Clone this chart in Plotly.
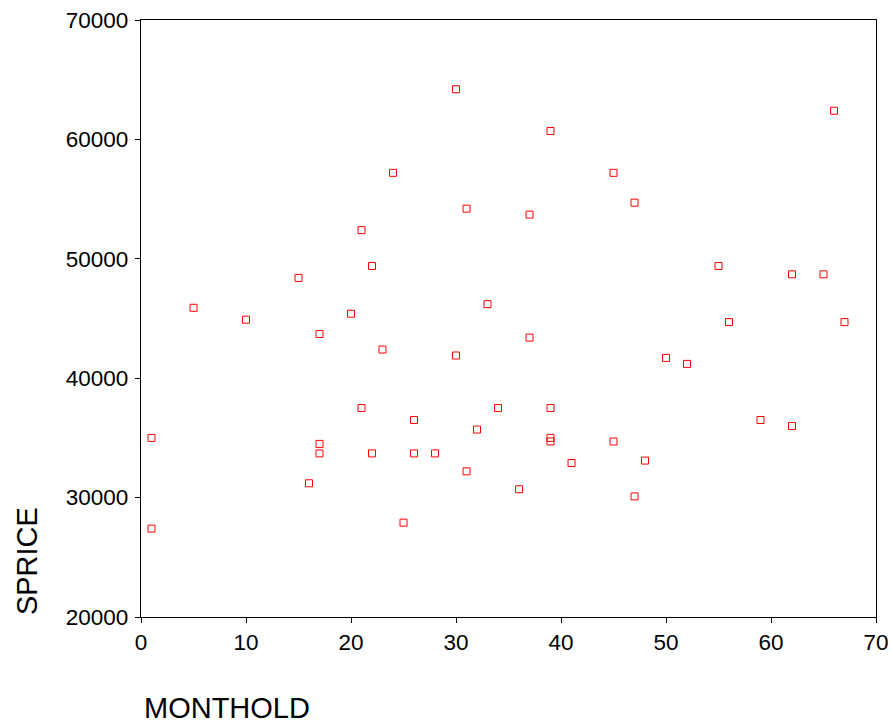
import plotly.graph_objects as go

# Months held vs. selling price
monthold = [30, 66, 39, 24, 45, 31, 37, 47, 21, 22, 15, 55, 62, 65, 5, 10, 20, 33,
            17, 23, 30, 37, 56, 67, 50, 52, 62, 59, 1, 1, 21, 26, 34, 39, 32, 17,
            17, 22, 26, 28, 31, 16, 25, 36, 39, 39, 45, 41, 48, 47]
sprice = [64200, 62400, 60700, 57200, 57200, 54200, 53700, 54700, 52400, 49400,
          48400, 49400, 48700, 48700, 45900, 44900, 45400, 46200, 43700, 42400,
          41900, 43400, 44700, 44700, 41700, 41200, 36000, 36500, 35000, 27400,
          37500, 36500, 37500, 37500, 35700, 34500, 33700, 33700, 33700, 33700,
          32200, 31200, 27900, 30700, 35000, 34700, 34700, 32900, 33100, 30100]

x_ticks = [0, 10, 20, 30, 40, 50, 60, 70]
y_ticks = [20000, 30000, 40000, 50000, 60000, 70000]

font_family = "Liberation Sans, Arial, sans-serif"

fig = go.Figure()
fig.add_trace(go.Scatter(
    x=monthold, y=sprice, mode="markers",
    marker=dict(symbol="square-open", size=7, color="#ff0000",
                line=dict(width=1, color="#ff0000")),
    showlegend=False,
))

axis_common = dict(
    showgrid=False, zeroline=False, showline=True, linecolor="black",
    linewidth=1.2, mirror=True, ticks="outside", ticklen=5, tickwidth=1,
    tickcolor="black", automargin=False,
    tickfont=dict(family=font_family, size=22.5, color="black"),
)

fig.update_xaxes(range=[0, 70], tickvals=x_ticks, ticktext=[str(v) for v in x_ticks],
                 **axis_common)
fig.update_yaxes(range=[20000, 70000], tickvals=y_ticks,
                 ticktext=[str(v) for v in y_ticks], ticklabelstandoff=2, **axis_common)

fig.add_annotation(text="MONTHOLD", xref="paper", yref="paper", x=0.002, y=-0.152,
                   xanchor="left", yanchor="middle", showarrow=False,
                   font=dict(family=font_family, size=29, color="black"))
fig.add_annotation(text="SPRICE", xref="paper", yref="paper", x=-0.155, y=0,
                   xanchor="center", yanchor="bottom", textangle=-90, showarrow=False,
                   font=dict(family=font_family, size=29, color="black"))

fig.update_layout(
    width=893, height=727,
    margin=dict(l=141, r=17, t=20, b=110, autoexpand=False),
    plot_bgcolor="white", paper_bgcolor="white",
)

fig.write_html("out.html")
